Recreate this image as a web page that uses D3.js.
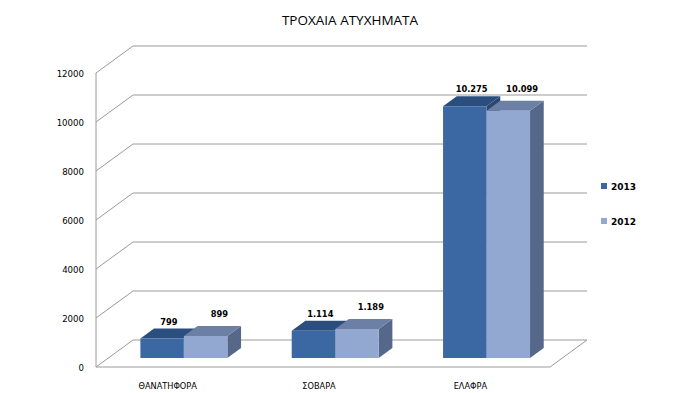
<!DOCTYPE html>
<html>
<head>
<meta charset="utf-8">
<script src="https://cdn.jsdelivr.net/npm/d3@7"></script>
<style>
  body { margin: 0; background: #fff; }
  svg { display: block; }
</style>
</head>
<body>
<svg id="chart" width="700" height="393"></svg>
<script>
// data
const categories = ["ΘΑΝΑΤΗΦΟΡΑ", "ΣΟΒΑΡΑ", "ΕΛΑΦΡΑ"];
const series = ["2013", "2012"];
const values2013 = [799, 1114, 10275];
const values2012 = [899, 1189, 10099];
const yTicks = [0, 2000, 4000, 6000, 8000, 10000, 12000];

const svg = d3.select("#chart");

// oblique 3d: full depth of the box shifts by DX, DY
const DX = 37, DY = -27;
// bars sit between these depth fractions
const z0 = 0.33, z1 = 0.70;

const x = d3.scaleBand().domain(categories).range([96, 550]).padding(0);
const x1 = d3.scaleBand().domain(series).range([0, x.bandwidth()]).paddingInner(0).paddingOuter(0.74);
const y = d3.scaleLinear().domain([0, 12000]).range([367, 73]);

const proj = (px, v, z) => [px + z * DX, y(v) + z * DY];

const palette = {
  "2013": { front: "#3b67a3", top: "#2a4e7e", side: "#2b4670" },
  "2012": { front: "#93a8d0", top: "#6c7fa4", side: "#566889" }
};

// title
svg.append("text")
  .attr("x", 350).attr("y", 25)
  .attr("text-anchor", "middle")
  .style("font-family", "Open Sans, sans-serif")
  .style("font-size", "13.5px")
  .style("font-weight", "500")
  .text("ΤΡΟΧΑΙΑ ΑΤΥΧΗΜΑΤΑ");

// walls and grid
const grid = svg.append("g")
  .attr("stroke", "#9a9a9a")
  .attr("stroke-width", 1)
  .attr("fill", "none");

yTicks.forEach(t => {
  const a = proj(96, t, 0), b = proj(96, t, 1), c = proj(550, t, 1);
  grid.append("polyline").attr("points", [a, b, c].join(" "));
});
// left axis line
grid.append("line")
  .attr("x1", 96).attr("x2", 96)
  .attr("y1", y(12000)).attr("y2", y(0));
// floor front edge
grid.append("polyline")
  .attr("points", [proj(96, 0, 0), proj(550, 0, 0), proj(550, 0, 1)].join(" "));

// y labels
svg.append("g")
  .selectAll("text")
  .data(yTicks)
  .join("text")
  .attr("x", 84)
  .attr("y", d => y(d) + 3.5)
  .attr("text-anchor", "end")
  .style("font-family", "DejaVu Sans, sans-serif")
  .style("font-size", "8.6px")
  .text(d => d);

// bars
const bars = [];
categories.forEach((c, i) => {
  bars.push({ cat: c, s: "2013", v: values2013[i] });
  bars.push({ cat: c, s: "2012", v: values2012[i] });
});

const fmt = d3.formatLocale({ decimal: ",", thousands: ".", grouping: [3], currency: ["", "€"] }).format(",d");

const barG = svg.append("g");
bars.forEach(d => {
  const xl = x(d.cat) + x1(d.s);
  const xr = xl + x1.bandwidth();
  const col = palette[d.s];
  const g = barG.append("g");
  // side
  g.append("polygon")
    .attr("points", [proj(xr, d.v, z0), proj(xr, 0, z0), proj(xr, 0, z1), proj(xr, d.v, z1)].join(" "))
    .attr("fill", col.side);
  // top
  g.append("polygon")
    .attr("points", [proj(xl, d.v, z0), proj(xr, d.v, z0), proj(xr, d.v, z1), proj(xl, d.v, z1)].join(" "))
    .attr("fill", col.top);
  // front
  g.append("polygon")
    .attr("points", [proj(xl, d.v, z0), proj(xr, d.v, z0), proj(xr, 0, z0), proj(xl, 0, z0)].join(" "))
    .attr("fill", col.front);
});

// value labels
bars.forEach(d => {
  const xl = x(d.cat) + x1(d.s);
  const mid = proj(xl + x1.bandwidth() / 2, d.v, (z0 + z1) / 2);
  const back = proj(xl, d.v, z1);
  svg.append("text")
    .attr("x", mid[0] + (d.s === "2012" ? 7 : 0))
    .attr("y", back[1] - (d.s === "2012" ? 9 : 4))
    .attr("text-anchor", "middle")
    .style("font-family", "DejaVu Sans, sans-serif")
    .style("font-size", "8.3px")
    .style("font-weight", "bold")
    .text(fmt(d.v));
});

// x labels
svg.append("g")
  .selectAll("text")
  .data(categories)
  .join("text")
  .attr("x", d => x(d) + x.bandwidth() / 2 - 4)
  .attr("y", 389)
  .attr("text-anchor", "middle")
  .style("font-family", "DejaVu Sans, sans-serif")
  .style("font-size", "8.2px")
  .text(d => d);

// legend
const legend = svg.append("g")
  .selectAll("g")
  .data(series)
  .join("g")
  .attr("transform", (d, i) => `translate(601, ${186 + i * 35})`);
legend.append("rect")
  .attr("x", 0).attr("y", -3)
  .attr("width", 6).attr("height", 6)
  .attr("fill", d => palette[d].front);
legend.append("text")
  .attr("x", 10).attr("y", 3.5)
  .style("font-family", "DejaVu Sans, sans-serif")
  .style("font-size", "9px")
  .style("font-weight", "bold")
  .text(d => d);
</script>
</body>
</html>
